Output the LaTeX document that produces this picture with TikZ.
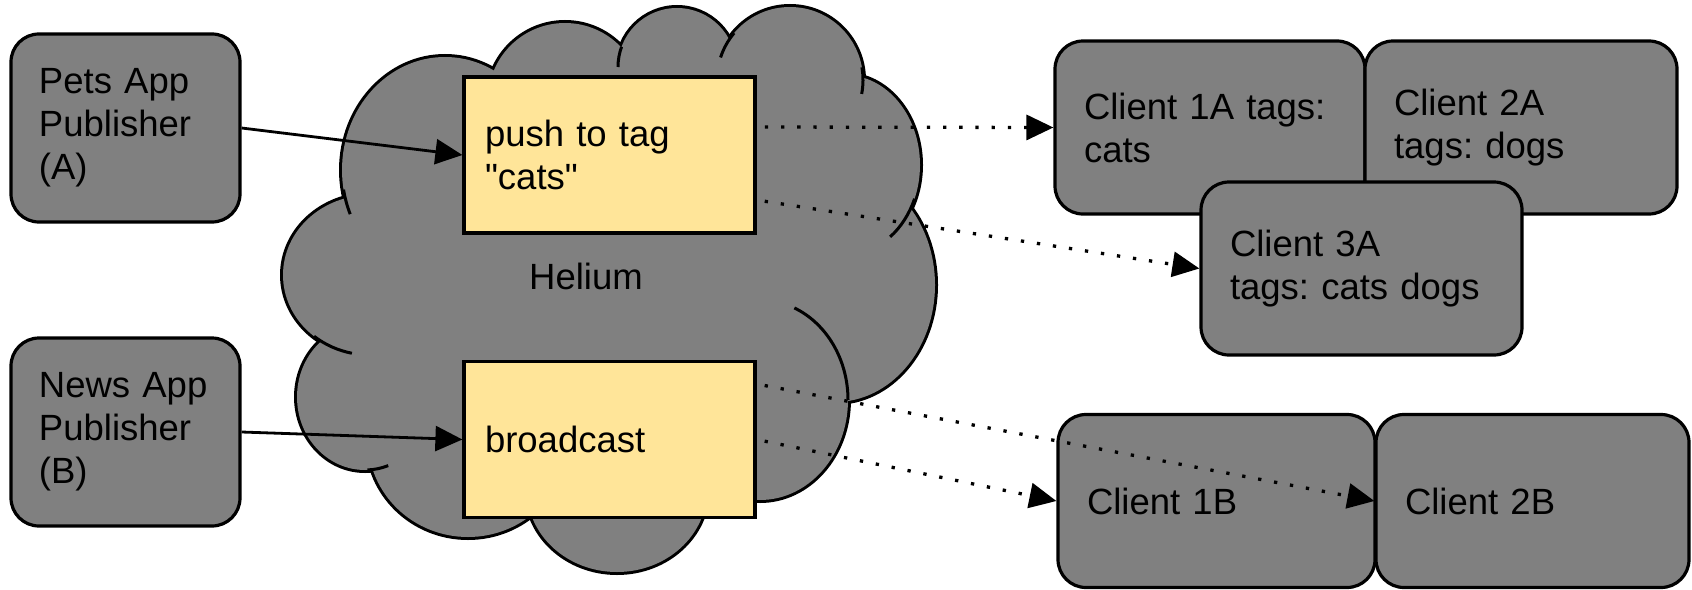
\documentclass[tikz,border=0pt]{standalone}
\usepackage{fontspec}
\setmainfont{Liberation Sans}
\usetikzlibrary{arrows.meta}
\frenchspacing
\definecolor{cloudgray}{HTML}{808080}
\definecolor{opyellow}{HTML}{FFE599}
% puffs of the cloud: centre x / centre y / x radius / y radius
\newcommand\cloudpuffs{445/170/103/113, 565/100/77/77, 677/67/59/59, 790/80/73/73,
  845/165/75/90, 835/285/100/117, 760/400/88/100, 617/490/90/82, 468/440/100/97,
  365/397/68/73, 370/275/87/80}
\tikzset{
  box/.style={draw=black, line width=1.6pt, fill=cloudgray, rounded corners=14pt,
    inner xsep=14.5pt, align=left},
  pub/.style={box, text width=86.5pt, inner xsep=14pt, minimum height=94pt},
  client/.style={box, text width=#1, minimum height=86.5pt},
  client/.default=127pt,
  op/.style={draw=black, line width=1.6pt, fill=opyellow, inner xsep=10.5pt,
    text width=124.5pt, align=left, minimum height=78pt},
  feed/.style={line width=1.4pt, -{Triangle[length=13.5pt,width=12.5pt]}},
  deliver/.style={feed, line width=1.65pt, dash pattern=on 1.65pt off 6.45pt, dash phase=4pt},
  puffline/.style={line width=1.5pt}
}
\begin{document}
\begin{tikzpicture}[x=0.5pt,y=-0.5pt,font=\fontsize{18.25pt}{21.5pt}\selectfont]
\useasboundingbox (0,0) rectangle (1692,589);
% cloud: stroke every puff, then fill them all so only the outer edge stays
\foreach \cx/\cy/\rx/\ry in \cloudpuffs
  \draw[line width=3pt] (\cx,\cy) ellipse[x radius=\rx, y radius=\ry];
\foreach \cx/\cy/\rx/\ry in \cloudpuffs
  \fill[cloudgray] (\cx,\cy) ellipse[x radius=\rx, y radius=\ry];
\fill[cloudgray] (445,170) -- (565,100) -- (677,67) -- (790,80) -- (845,165) -- (835,285)
  -- (760,400) -- (617,490) -- (468,440) -- (365,397) -- (370,275) -- cycle;
% short inner arcs where puffs meet
\draw[puffline] (445,170) ++(170:103 and 113) arc[start angle=170, end angle=157, x radius=103, y radius=113];
\draw[puffline] (370,275) ++(130:87 and 80) arc[start angle=130, end angle=102, x radius=87, y radius=80];
\draw[puffline] (365,397) ++(88:68 and 73) arc[start angle=88, end angle=70, x radius=68, y radius=73];
\draw[puffline] (677,67) ++(200:59) arc[start angle=200, end angle=180, radius=59];
\draw[puffline] (790,80) ++(220:73) arc[start angle=220, end angle=198, radius=73];
\draw[puffline] (790,80) ++(-10:73) arc[start angle=-10, end angle=11, radius=73];
\draw[puffline] (845,165) ++(22:75 and 90) arc[start angle=22, end angle=53, x radius=75, y radius=90];
\draw[puffline] (760,400) ++(0:88 and 100) arc[start angle=0, end angle=-67, x radius=88, y radius=100];
\node (helium) at (586,276) {Helium};

% publishers
\node[pub] (pets) at (125.5,128) {Pets App\\Publisher\\(A)};
\node[pub] (news) at (125.5,432) {News App\\Publisher\\(B)};

% operations inside Helium
\node[op] (tagpush) at (609.5,155) {push to tag\\\textquotedbl cats\textquotedbl};
\node[op] (bcast) at (609.5,439.5) {broadcast};

% clients
\node[client=126pt] (c1a) at (1210,127.5) {Client 1A tags:\\cats};
\node[client=127pt] (c2a) at (1521,127.5) {Client 2A\\tags: dogs};
\node[client=131.5pt] (c3a) at (1361.5,268.5) {Client 3A\\tags: cats dogs};
\node[client=129.5pt] (c1b) at (1216.5,501) {Client 1B};
\node[client=127.5pt] (c2b) at (1532.5,501) {Client 2B};

\draw[feed] (pets.east) -- (tagpush.west);
\draw[feed] (news.east) -- (bcast.west);
\draw[deliver] ([yshift=14pt]tagpush.east) -- (c1a.west);
\draw[deliver] ([yshift=-22.5pt]tagpush.east) -- (c3a.west);
\draw[deliver] ([yshift=27.75pt]bcast.east) -- (c2b.west);
\draw[deliver] (bcast.east) -- (c1b.west);
\end{tikzpicture}
\end{document}
